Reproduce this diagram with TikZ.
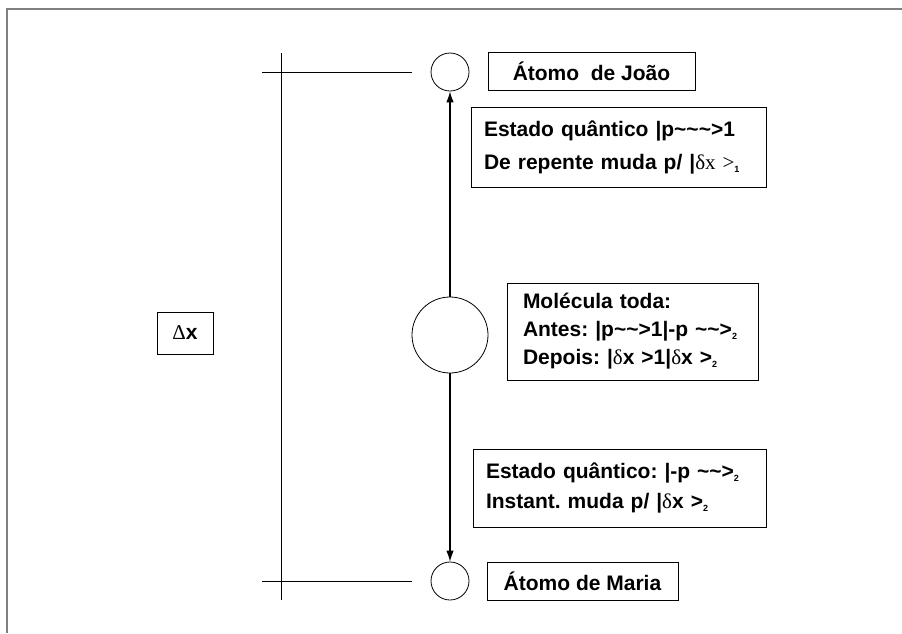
\documentclass[tikz,border=0pt]{standalone}
\usepackage{fontspec}
\setmainfont{Liberation Sans}
\newfontfamily\grk{Liberation Serif}
\usetikzlibrary{arrows.meta}
\frenchspacing

% small lowered index, as in >_2
\newcommand{\lowidx}[1]{\raisebox{-3pt}{\fontsize{9}{9}\selectfont #1}}
\newcommand{\dlt}{{\grk\mdseries δ}}

\begin{document}
\begin{tikzpicture}[x=1pt, y=-1pt, line width=.8pt,
	atom/.style={draw, circle, inner sep=0pt, minimum size=#1},
	label/.style={draw, rectangle, font=\bfseries\fontsize{21}{30}\selectfont, minimum height=38pt},
	state/.style={draw, rectangle, align=left, inner xsep=13pt, font=\bfseries\fontsize{21}{30}\selectfont},
	link/.style={line width=1.1pt, -{Latex[length=11pt, width=7.5pt]}}]
	\useasboundingbox (0,0) rectangle (902,633);

	% frame
	\draw[gray, line width=1.6pt] (7,633) -- (7,9) -- (902,9);

	% scale
	\coordinate (scaletop) at (281,53);
	\coordinate (scalebot) at (281,600);
	\coordinate (marktopl) at (262,72);
	\coordinate (marktopr) at (412,72);
	\coordinate (markbotl) at (262,581);
	\coordinate (markbotr) at (412,581);
	\draw (scaletop) -- (scalebot);
	\draw (marktopl) -- (marktopr);
	\draw (markbotl) -- (markbotr);
	\node[draw, minimum width=56pt, minimum height=42pt, font=\bfseries\fontsize{21}{24}\selectfont] (dx) at (185,333) {{\grk\mdseries Δ}x};

	% atoms
	\node[atom=38pt] (joao) at (450,72) {};
	\node[atom=76pt] (molecule) at (450,335) {};
	\node[atom=38pt] (maria) at (450,581) {};
	\draw[link] (molecule) -- (joao);
	\draw[link] (molecule) -- (maria);

	% labels
	\node[label, minimum width=207pt] (joaolabel) at (591.5,71) {Átomo\ \ de João};
	\node[label, minimum width=191pt] (marialabel) at (582.5,581) {Átomo de Maria};

	% states
	\node[state, text width=269pt, minimum height=80pt] (joaostate) at (618.5,147)
		{Estado quântico |p\textasciitilde\textasciitilde\textasciitilde>1\\[3pt]
		De repente muda p/ |{\grk\mdseries δx >}\lowidx{1}};
	\node[state, inner xsep=16pt, text width=219pt, minimum height=97pt] (molstate) at (632.5,331.5)
		{Molécula toda:\\[-2pt]
		Antes: |p\textasciitilde\textasciitilde>1|-p \textasciitilde\textasciitilde>\lowidx{2}\\[-2pt]
		Depois: |\dlt x >1|\dlt x >\lowidx{2}};
	\node[state, text width=267pt, minimum height=78pt] (mariastate) at (619.5,488)
		{Estado quântico: |-p \textasciitilde\textasciitilde>\lowidx{2}\\
		Instant. muda p/ |\dlt x >\lowidx{2}};
\end{tikzpicture}
\end{document}
